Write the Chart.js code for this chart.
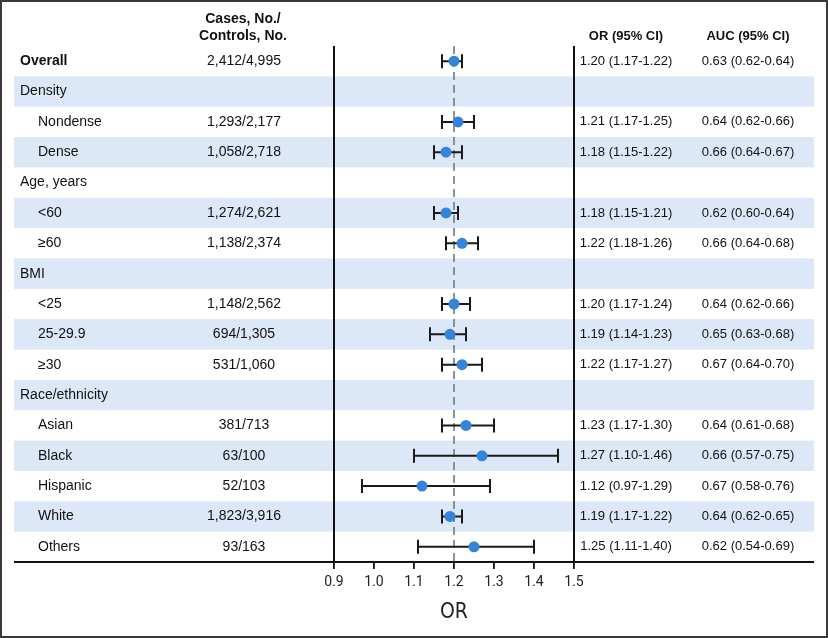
<!DOCTYPE html>
<html>
<head>
<meta charset="utf-8">
<script src="https://cdn.jsdelivr.net/npm/chart.js@4.4.0/dist/chart.umd.min.js"></script>
<style>
  html, body { margin: 0; padding: 0; background: #fff; }
  #wrap { width: 828px; height: 638px; position: relative; }
</style>
</head>
<body>
<div id="wrap"><canvas id="forest" width="828" height="638"></canvas></div>
<script>
// rows of the table, top to bottom
const rowLabels = ['Overall', 'Density', 'Nondense', 'Dense', 'Age, years', '<60', '≥60', 'BMI', '<25', '25-29.9', '≥30',
  'Race/ethnicity', 'Asian', 'Black', 'Hispanic', 'White', 'Others']
const casesControls = ['2,412/4,995', null, '1,293/2,177', '1,058/2,718', null, '1,274/2,621', '1,138/2,374', null,
  '1,148/2,562', '694/1,305', '531/1,060', null, '381/713', '63/100', '52/103', '1,823/3,916', '93/163']
const orVal = [1.20, null, 1.21, 1.18, null, 1.18, 1.22, null, 1.20, 1.19, 1.22, null, 1.23, 1.27, 1.12, 1.19, 1.25]
const orLow = [1.17, null, 1.17, 1.15, null, 1.15, 1.18, null, 1.17, 1.14, 1.17, null, 1.17, 1.10, 0.97, 1.17, 1.11]
const orHigh = [1.22, null, 1.25, 1.22, null, 1.21, 1.26, null, 1.24, 1.23, 1.27, null, 1.30, 1.46, 1.29, 1.22, 1.40]
const aucVal = [0.63, null, 0.64, 0.66, null, 0.62, 0.66, null, 0.64, 0.65, 0.67, null, 0.64, 0.66, 0.67, 0.64, 0.62]
const aucLow = [0.62, null, 0.62, 0.64, null, 0.60, 0.64, null, 0.62, 0.63, 0.64, null, 0.61, 0.57, 0.58, 0.62, 0.54]
const aucHigh = [0.64, null, 0.66, 0.67, null, 0.64, 0.68, null, 0.66, 0.68, 0.70, null, 0.68, 0.75, 0.76, 0.65, 0.69]
const xTicks = [0.9, 1.0, 1.1, 1.2, 1.3, 1.4, 1.5]
const refLine = 1.2

const fmtCI = (v, lo, hi) => v.toFixed(2) + ' (' + lo.toFixed(2) + '-' + hi.toFixed(2) + ')'

const points = []
orVal.forEach((v, i) => {
    if (v !== null) points.push({x: v, y: i})
})

const forestPlugin = {
    id: 'forest',
    beforeDraw(chart) {
        const ctx = chart.ctx
        const y = chart.scales.y
        ctx.save()
        ctx.fillStyle = '#fff'
        ctx.fillRect(0, 0, chart.width, chart.height)
        // striped rows
        ctx.fillStyle = '#dce7f8'
        rowLabels.forEach((l, i) => {
            if (i % 2 === 1) {
                const t = y.getPixelForValue(i - 0.5)
                const b = y.getPixelForValue(i + 0.5)
                ctx.fillRect(14, t, 800, b - t)
            }
        })
        ctx.restore()
    },
    beforeDatasetsDraw(chart) {
        const ctx = chart.ctx
        const x = chart.scales.x
        const y = chart.scales.y
        const area = chart.chartArea
        ctx.save()
        // reference line
        ctx.strokeStyle = '#7b8a8a'
        ctx.lineWidth = 1.8
        ctx.setLineDash([8, 5])
        const rx = x.getPixelForValue(refLine)
        ctx.beginPath()
        ctx.moveTo(rx, area.top)
        ctx.lineTo(rx, area.bottom)
        ctx.stroke()
        ctx.setLineDash([])
        // error bars
        ctx.strokeStyle = '#1a1a1a'
        ctx.lineWidth = 2
        orVal.forEach((v, i) => {
            if (v === null) return
            const py = y.getPixelForValue(i)
            const x1 = x.getPixelForValue(orLow[i])
            const x2 = x.getPixelForValue(orHigh[i])
            ctx.beginPath()
            ctx.moveTo(x1, py); ctx.lineTo(x2, py)
            ctx.moveTo(x1, py - 7); ctx.lineTo(x1, py + 7)
            ctx.moveTo(x2, py - 7); ctx.lineTo(x2, py + 7)
            ctx.stroke()
        })
        ctx.restore()
    },
    afterDraw(chart) {
        const ctx = chart.ctx
        const y = chart.scales.y
        const area = chart.chartArea
        ctx.save()
        // frame lines
        ctx.strokeStyle = '#111'
        ctx.lineWidth = 2
        ctx.beginPath()
        ctx.moveTo(area.left, area.top); ctx.lineTo(area.left, area.bottom)
        ctx.moveTo(area.right, area.top); ctx.lineTo(area.right, area.bottom)
        ctx.moveTo(14, area.bottom); ctx.lineTo(814, area.bottom)
        ctx.stroke()

        // headers
        ctx.fillStyle = '#111'
        ctx.textBaseline = 'middle'
        ctx.textAlign = 'center'
        ctx.font = 'bold 14px "Liberation Sans", Arial, sans-serif'
        ctx.fillText('Cases, No./', 243, 19)
        ctx.fillText('Controls, No.', 243, 36)
        ctx.font = 'bold 13px "Liberation Sans", Arial, sans-serif'
        ctx.fillText('OR (95% CI)', 626, 36)
        ctx.fillText('AUC (95% CI)', 748, 36)

        rowLabels.forEach((l, i) => {
            const py = y.getPixelForValue(i)
            ctx.textAlign = 'left'
            if (i === 0) {
                ctx.font = 'bold 14px "Liberation Sans", Arial, sans-serif'
                ctx.fillText(l, 20, py)
            } else if (orVal[i] === null) {
                ctx.font = '14px "Liberation Sans", Arial, sans-serif'
                ctx.fillText(l, 20, py)
            } else {
                ctx.font = '14px "Liberation Sans", Arial, sans-serif'
                ctx.fillText(l, 38, py)
            }
            if (casesControls[i] !== null) {
                ctx.textAlign = 'center'
                ctx.font = '14px "Liberation Sans", Arial, sans-serif'
                ctx.fillText(casesControls[i], 244, py)
            }
            if (orVal[i] !== null) {
                ctx.textAlign = 'center'
                ctx.font = '13px "Liberation Sans", Arial, sans-serif'
                ctx.fillText(fmtCI(orVal[i], orLow[i], orHigh[i]), 626, py)
                ctx.fillText(fmtCI(aucVal[i], aucLow[i], aucHigh[i]), 748, py)
            }
        })

        // outer border
        ctx.strokeStyle = '#3a3a3a'
        ctx.lineWidth = 2
        ctx.strokeRect(1, 1, chart.width - 2, chart.height - 2)
        ctx.restore()
    }
}

const ctx = document.getElementById('forest')
const forest = new Chart(ctx, {
    type: 'scatter',
    data: {
        datasets: [{
            label: 'OR',
            data: points,
            backgroundColor: '#3584dc',
            borderWidth: 0,
            pointRadius: 5.5,
            pointHoverRadius: 5.5
        }]
    },
    options: {
        responsive: false,
        animation: false,
        events: [],
        layout: {
            padding: {left: 334, right: 254, top: 46, bottom: 0}
        },
        plugins: {
            legend: {display: false},
            tooltip: {enabled: false}
        },
        scales: {
            x: {
                type: 'linear',
                min: 0.9,
                max: 1.5,
                afterFit: s => { s.height = 76 },
                afterBuildTicks: s => { s.ticks = xTicks.map(v => ({value: v})) },
                border: {display: false},
                grid: {
                    drawOnChartArea: false,
                    drawTicks: true,
                    tickLength: 7,
                    color: '#111',
                    lineWidth: 1.8
                },
                ticks: {
                    padding: 5,
                    color: '#222',
                    font: {family: 'Roboto, "Liberation Sans", sans-serif', size: 14},
                    callback: v => v.toFixed(1)
                },
                title: {
                    display: true,
                    text: 'OR',
                    color: '#222',
                    font: {family: '"DejaVu Sans Condensed", Roboto, sans-serif', size: 21},
                    padding: {top: 0, bottom: 13}
                }
            },
            y: {
                type: 'linear',
                min: -0.5,
                max: rowLabels.length - 0.5,
                reverse: true,
                display: false
            }
        }
    },
    plugins: [forestPlugin]
})
</script>
</body>
</html>
